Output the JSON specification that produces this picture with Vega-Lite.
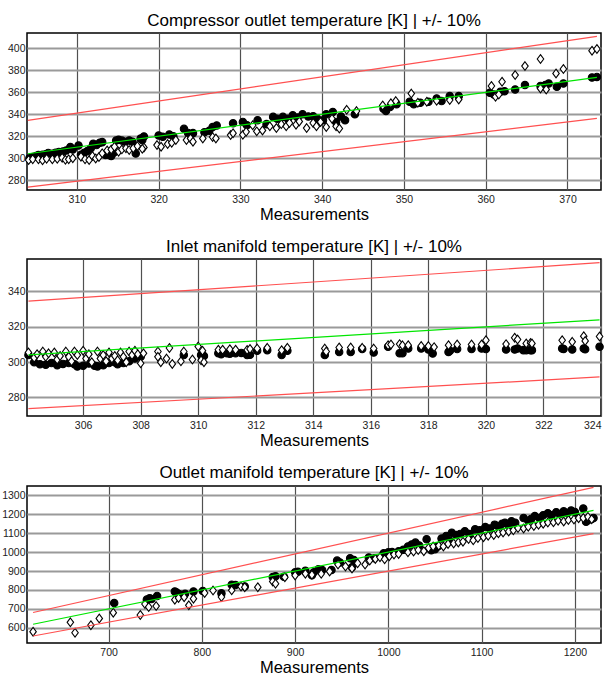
{
"$schema": "https://vega.github.io/schema/vega-lite/v6.json",
"background": "white",
"padding": {"left": 0, "top": 11, "right": 4, "bottom": 0},
"spacing": 13,
"datasets": {
"p1": [
{"x":304.2,"y":300,"m":"c"},{"x":304.6,"y":301,"m":"c"},{"x":305.0,"y":302,"m":"c"},{"x":305.3,"y":302.8,"m":"c"},{"x":305.8,"y":303,"m":"c"},{"x":306.2,"y":303.5,"m":"c"},{"x":306.5,"y":304.7,"m":"c"},{"x":307.0,"y":304,"m":"c"},{"x":307.4,"y":305,"m":"c"},{"x":307.8,"y":305.6,"m":"c"},{"x":308.3,"y":306,"m":"c"},{"x":308.7,"y":307,"m":"c"},{"x":309.2,"y":310.1,"m":"c"},{"x":309.5,"y":308,"m":"c"},{"x":310.2,"y":311.6,"m":"c"},{"x":310.5,"y":303,"m":"c"},{"x":310.9,"y":305,"m":"c"},{"x":311.3,"y":306.5,"m":"c"},{"x":311.7,"y":309,"m":"c"},{"x":312.0,"y":313.1,"m":"c"},{"x":312.4,"y":312,"m":"c"},{"x":312.8,"y":314,"m":"c"},{"x":313.1,"y":314.6,"m":"c"},{"x":313.5,"y":303,"m":"c"},{"x":313.9,"y":302.8,"m":"c"},{"x":314.2,"y":302,"m":"c"},{"x":314.5,"y":305,"m":"c"},{"x":314.8,"y":316,"m":"c"},{"x":315.1,"y":316.7,"m":"c"},{"x":315.5,"y":316,"m":"c"},{"x":315.9,"y":315,"m":"c"},{"x":316.4,"y":316.1,"m":"c"},{"x":316.8,"y":315,"m":"c"},{"x":317.2,"y":304.3,"m":"c"},{"x":317.8,"y":318,"m":"c"},{"x":318.2,"y":319.8,"m":"c"},{"x":318.0,"y":316.5,"m":"c"},{"x":320.0,"y":320.7,"m":"c"},{"x":320.5,"y":319.5,"m":"c"},{"x":321.3,"y":321.6,"m":"c"},{"x":321.8,"y":320,"m":"c"},{"x":323.1,"y":326.7,"m":"c"},{"x":323.6,"y":323,"m":"c"},{"x":324.2,"y":322.8,"m":"c"},{"x":325.6,"y":323.7,"m":"c"},{"x":326.2,"y":325,"m":"c"},{"x":326.6,"y":328.3,"m":"c"},{"x":327.1,"y":329.8,"m":"c"},{"x":329.1,"y":331.7,"m":"c"},{"x":330.3,"y":333,"m":"c"},{"x":330.8,"y":330,"m":"c"},{"x":332.1,"y":334.5,"m":"c"},{"x":333.2,"y":331,"m":"c"},{"x":334.0,"y":337.6,"m":"c"},{"x":334.5,"y":336,"m":"c"},{"x":335.2,"y":337.6,"m":"c"},{"x":335.8,"y":336,"m":"c"},{"x":336.4,"y":339,"m":"c"},{"x":337.0,"y":337,"m":"c"},{"x":337.6,"y":340,"m":"c"},{"x":338.3,"y":338,"m":"c"},{"x":338.9,"y":338.2,"m":"c"},{"x":339.4,"y":336,"m":"c"},{"x":340.1,"y":334.5,"m":"c"},{"x":340.5,"y":340,"m":"c"},{"x":341.3,"y":342,"m":"c"},{"x":341.7,"y":333,"m":"c"},{"x":342.3,"y":338,"m":"c"},{"x":342.8,"y":334.5,"m":"c"},{"x":344.0,"y":340,"m":"c"},{"x":347.5,"y":345,"m":"c"},{"x":347.8,"y":343,"m":"c"},{"x":348.3,"y":346.5,"m":"c"},{"x":349.1,"y":349,"m":"c"},{"x":350.7,"y":351.4,"m":"c"},{"x":351.2,"y":349,"m":"c"},{"x":352.0,"y":350.5,"m":"c"},{"x":353.0,"y":351.4,"m":"c"},{"x":354.0,"y":354.4,"m":"c"},{"x":354.6,"y":352,"m":"c"},{"x":355.6,"y":356.5,"m":"c"},{"x":356.7,"y":356.5,"m":"c"},{"x":360.5,"y":359.5,"m":"c"},{"x":361.0,"y":358,"m":"c"},{"x":361.8,"y":360.5,"m":"c"},{"x":362.3,"y":361,"m":"c"},{"x":363.6,"y":362.6,"m":"c"},{"x":364.8,"y":366.6,"m":"c"},{"x":366.7,"y":365.7,"m":"c"},{"x":367.3,"y":366.6,"m":"c"},{"x":367.7,"y":368,"m":"c"},{"x":368.7,"y":365,"m":"c"},{"x":369.5,"y":368,"m":"c"},{"x":373.0,"y":373.5,"m":"c"},{"x":373.6,"y":374,"m":"c"},
{"x":304.1,"y":298.3,"m":"d"},{"x":304.6,"y":299,"m":"d"},{"x":305.3,"y":298.9,"m":"d"},{"x":305.8,"y":298,"m":"d"},{"x":306.3,"y":299.5,"m":"d"},{"x":307.0,"y":298.9,"m":"d"},{"x":307.6,"y":299.5,"m":"d"},{"x":308.2,"y":300.4,"m":"d"},{"x":308.6,"y":298.5,"m":"d"},{"x":309.0,"y":298.9,"m":"d"},{"x":309.5,"y":300,"m":"d"},{"x":310.5,"y":301.3,"m":"d"},{"x":311.0,"y":299,"m":"d"},{"x":311.5,"y":298.3,"m":"d"},{"x":311.9,"y":302,"m":"d"},{"x":312.3,"y":299.8,"m":"d"},{"x":312.7,"y":301,"m":"d"},{"x":313.1,"y":304.4,"m":"d"},{"x":313.7,"y":307,"m":"d"},{"x":314.2,"y":308,"m":"d"},{"x":314.6,"y":310.4,"m":"d"},{"x":315.1,"y":305.9,"m":"d"},{"x":315.5,"y":308,"m":"d"},{"x":316.0,"y":309,"m":"d"},{"x":316.4,"y":307.4,"m":"d"},{"x":316.9,"y":309,"m":"d"},{"x":317.4,"y":311,"m":"d"},{"x":318.2,"y":309.8,"m":"d"},{"x":318.0,"y":308.5,"m":"d"},{"x":319.8,"y":311.9,"m":"d"},{"x":320.3,"y":310.5,"m":"d"},{"x":321.1,"y":312.8,"m":"d"},{"x":321.6,"y":314,"m":"d"},{"x":322.1,"y":316.5,"m":"d"},{"x":323.4,"y":316.5,"m":"d"},{"x":323.9,"y":318,"m":"d"},{"x":324.2,"y":315,"m":"d"},{"x":325.4,"y":318,"m":"d"},{"x":326.6,"y":319.2,"m":"d"},{"x":327.0,"y":318,"m":"d"},{"x":328.8,"y":321,"m":"d"},{"x":329.1,"y":322.8,"m":"d"},{"x":330.3,"y":321.3,"m":"d"},{"x":330.7,"y":324,"m":"d"},{"x":331.5,"y":330,"m":"d"},{"x":332.0,"y":324.4,"m":"d"},{"x":332.7,"y":325.3,"m":"d"},{"x":333.6,"y":329,"m":"d"},{"x":334.4,"y":327.4,"m":"d"},{"x":335.0,"y":331,"m":"d"},{"x":335.6,"y":329,"m":"d"},{"x":336.0,"y":332,"m":"d"},{"x":336.8,"y":330.5,"m":"d"},{"x":337.2,"y":333.5,"m":"d"},{"x":338.1,"y":327.4,"m":"d"},{"x":338.9,"y":332,"m":"d"},{"x":339.3,"y":329,"m":"d"},{"x":339.8,"y":333,"m":"d"},{"x":340.5,"y":328.3,"m":"d"},{"x":341.2,"y":336,"m":"d"},{"x":341.7,"y":329,"m":"d"},{"x":342.1,"y":327,"m":"d"},{"x":343.0,"y":344,"m":"d"},{"x":344.2,"y":342.9,"m":"d"},{"x":347.4,"y":348,"m":"d"},{"x":348.4,"y":350,"m":"d"},{"x":349.0,"y":352,"m":"d"},{"x":350.9,"y":358.8,"m":"d"},{"x":351.7,"y":350.5,"m":"d"},{"x":352.8,"y":351.4,"m":"d"},{"x":354.0,"y":352.3,"m":"d"},{"x":355.6,"y":352.9,"m":"d"},{"x":356.7,"y":353.5,"m":"d"},{"x":360.7,"y":365.7,"m":"d"},{"x":361.2,"y":355.9,"m":"d"},{"x":361.6,"y":358,"m":"d"},{"x":362.0,"y":369.6,"m":"d"},{"x":363.6,"y":375.7,"m":"d"},{"x":364.8,"y":383.9,"m":"d"},{"x":366.7,"y":390.3,"m":"d"},{"x":366.7,"y":363.5,"m":"d"},{"x":367.4,"y":362.6,"m":"d"},{"x":368.6,"y":377.2,"m":"d"},{"x":369.5,"y":381.2,"m":"d"},{"x":373.0,"y":397.9,"m":"d"},{"x":373.6,"y":399.4,"m":"d"}
],
"l1": [
{"x":304.0,"y":304.0,"k":"ideal"},{"x":373.6,"y":373.6,"k":"ideal"},
{"x":304.0,"y":334.4,"k":"upper"},{"x":373.6,"y":411.0,"k":"upper"},
{"x":304.0,"y":273.6,"k":"lower"},{"x":373.6,"y":336.2,"k":"lower"}
],
"p2": [
{"x":304.1,"y":304,"m":"c"},{"x":304.3,"y":300,"m":"c"},{"x":304.5,"y":298.8,"m":"c"},{"x":304.7,"y":298.5,"m":"c"},{"x":304.9,"y":299.5,"m":"c"},{"x":305.1,"y":298.2,"m":"c"},{"x":305.3,"y":299,"m":"c"},{"x":305.5,"y":299.5,"m":"c"},{"x":305.7,"y":298.8,"m":"c"},{"x":305.8,"y":297.5,"m":"c"},{"x":306.0,"y":298,"m":"c"},{"x":306.2,"y":299.2,"m":"c"},{"x":306.4,"y":298,"m":"c"},{"x":306.5,"y":297.6,"m":"c"},{"x":306.7,"y":298.2,"m":"c"},{"x":306.9,"y":299.5,"m":"c"},{"x":307.1,"y":300,"m":"c"},{"x":307.2,"y":298.8,"m":"c"},{"x":307.4,"y":299.5,"m":"c"},{"x":307.6,"y":300.5,"m":"c"},{"x":307.8,"y":302,"m":"c"},{"x":308.0,"y":303,"m":"c"},{"x":309.5,"y":304,"m":"c"},{"x":310.1,"y":304,"m":"c"},{"x":310.2,"y":303.5,"m":"c"},{"x":310.7,"y":305,"m":"c"},{"x":310.8,"y":304.5,"m":"c"},{"x":311.0,"y":305,"m":"c"},{"x":311.1,"y":304.8,"m":"c"},{"x":311.3,"y":305,"m":"c"},{"x":311.5,"y":305.2,"m":"c"},{"x":311.7,"y":304,"m":"c"},{"x":311.8,"y":304.2,"m":"c"},{"x":312.05,"y":306.4,"m":"c"},{"x":312.4,"y":306.8,"m":"c"},{"x":312.9,"y":304,"m":"c"},{"x":313.1,"y":306.4,"m":"c"},{"x":314.4,"y":304,"m":"c"},{"x":314.9,"y":305.7,"m":"c"},{"x":315.3,"y":305.7,"m":"c"},{"x":315.7,"y":307.4,"m":"c"},{"x":316.1,"y":305.5,"m":"c"},{"x":316.6,"y":308.7,"m":"c"},{"x":317.0,"y":305,"m":"c"},{"x":317.1,"y":305,"m":"c"},{"x":317.3,"y":307.7,"m":"c"},{"x":317.75,"y":307.7,"m":"c"},{"x":318.0,"y":307.2,"m":"c"},{"x":318.15,"y":304.9,"m":"c"},{"x":318.7,"y":305.8,"m":"c"},{"x":318.75,"y":306.5,"m":"c"},{"x":319.0,"y":307.4,"m":"c"},{"x":319.5,"y":307.4,"m":"c"},{"x":319.85,"y":307.7,"m":"c"},{"x":320.0,"y":307.4,"m":"c"},{"x":320.7,"y":307.2,"m":"c"},{"x":321.0,"y":307.2,"m":"c"},{"x":321.1,"y":307.7,"m":"c"},{"x":321.3,"y":306.8,"m":"c"},{"x":321.4,"y":306.8,"m":"c"},{"x":321.55,"y":306.8,"m":"c"},{"x":321.6,"y":306.8,"m":"c"},{"x":322.65,"y":307.7,"m":"c"},{"x":322.7,"y":307.5,"m":"c"},{"x":323.0,"y":307.2,"m":"c"},{"x":323.4,"y":307.7,"m":"c"},{"x":323.45,"y":307.3,"m":"c"},{"x":323.95,"y":308.7,"m":"c"},
{"x":304.1,"y":305.5,"m":"d"},{"x":304.3,"y":302.5,"m":"d"},{"x":304.4,"y":304.5,"m":"d"},{"x":304.6,"y":306,"m":"d"},{"x":304.7,"y":303,"m":"d"},{"x":304.8,"y":305,"m":"d"},{"x":305.0,"y":305.5,"m":"d"},{"x":305.1,"y":301.5,"m":"d"},{"x":305.2,"y":303.5,"m":"d"},{"x":305.4,"y":306,"m":"d"},{"x":305.5,"y":303,"m":"d"},{"x":305.6,"y":300.5,"m":"d"},{"x":305.7,"y":306,"m":"d"},{"x":305.8,"y":304,"m":"d"},{"x":306.0,"y":306.5,"m":"d"},{"x":306.1,"y":302,"m":"d"},{"x":306.2,"y":304.5,"m":"d"},{"x":306.3,"y":300,"m":"d"},{"x":306.5,"y":306,"m":"d"},{"x":306.6,"y":302,"m":"d"},{"x":306.7,"y":304,"m":"d"},{"x":306.8,"y":300.5,"m":"d"},{"x":306.9,"y":305.5,"m":"d"},{"x":307.0,"y":302,"m":"d"},{"x":307.1,"y":303.5,"m":"d"},{"x":307.2,"y":301,"m":"d"},{"x":307.3,"y":305.5,"m":"d"},{"x":307.4,"y":303,"m":"d"},{"x":307.5,"y":300,"m":"d"},{"x":307.6,"y":306,"m":"d"},{"x":307.7,"y":304,"m":"d"},{"x":307.8,"y":306.5,"m":"d"},{"x":307.9,"y":304.5,"m":"d"},{"x":308.0,"y":299.3,"m":"d"},{"x":308.1,"y":305,"m":"d"},{"x":308.6,"y":306,"m":"d"},{"x":308.6,"y":303,"m":"d"},{"x":308.7,"y":300,"m":"d"},{"x":308.9,"y":302,"m":"d"},{"x":309.0,"y":308,"m":"d"},{"x":309.1,"y":299,"m":"d"},{"x":309.4,"y":300.5,"m":"d"},{"x":309.5,"y":306,"m":"d"},{"x":309.8,"y":301.5,"m":"d"},{"x":310.0,"y":308.8,"m":"d"},{"x":310.1,"y":301,"m":"d"},{"x":310.15,"y":306.5,"m":"d"},{"x":310.2,"y":300,"m":"d"},{"x":310.7,"y":307,"m":"d"},{"x":310.85,"y":307,"m":"d"},{"x":311.1,"y":307.3,"m":"d"},{"x":311.3,"y":307,"m":"d"},{"x":311.7,"y":306.9,"m":"d"},{"x":311.8,"y":307.5,"m":"d"},{"x":312.05,"y":307.7,"m":"d"},{"x":312.4,"y":308.1,"m":"d"},{"x":312.9,"y":306.8,"m":"d"},{"x":313.1,"y":308.1,"m":"d"},{"x":314.4,"y":307.7,"m":"d"},{"x":314.45,"y":306,"m":"d"},{"x":314.9,"y":308.3,"m":"d"},{"x":315.3,"y":308.3,"m":"d"},{"x":315.7,"y":308.1,"m":"d"},{"x":316.1,"y":307.7,"m":"d"},{"x":316.6,"y":309.6,"m":"d"},{"x":316.7,"y":310,"m":"d"},{"x":317.0,"y":310.2,"m":"d"},{"x":317.1,"y":309.5,"m":"d"},{"x":317.3,"y":309.6,"m":"d"},{"x":317.75,"y":309.2,"m":"d"},{"x":318.0,"y":309.1,"m":"d"},{"x":318.2,"y":308.5,"m":"d"},{"x":318.7,"y":309.6,"m":"d"},{"x":319.0,"y":310,"m":"d"},{"x":319.5,"y":310,"m":"d"},{"x":319.85,"y":310,"m":"d"},{"x":320.0,"y":312.4,"m":"d"},{"x":320.7,"y":310.2,"m":"d"},{"x":321.0,"y":313.8,"m":"d"},{"x":321.1,"y":312.8,"m":"d"},{"x":321.4,"y":310.6,"m":"d"},{"x":321.55,"y":310.9,"m":"d"},{"x":321.6,"y":310.6,"m":"d"},{"x":322.65,"y":312.4,"m":"d"},{"x":323.0,"y":311.5,"m":"d"},{"x":323.4,"y":314.7,"m":"d"},{"x":323.45,"y":312,"m":"d"},{"x":323.95,"y":314.5,"m":"d"}
],
"l2": [
{"x":304.1,"y":304.1,"k":"ideal"},{"x":323.95,"y":323.95,"k":"ideal"},
{"x":304.1,"y":334.5,"k":"upper"},{"x":323.95,"y":356.3,"k":"upper"},
{"x":304.1,"y":273.7,"k":"lower"},{"x":323.95,"y":291.6,"k":"lower"}
],
"p3": [
{"x":706,"y":731,"m":"c"},{"x":741,"y":749,"m":"c"},{"x":744,"y":756,"m":"c"},{"x":746,"y":752,"m":"c"},{"x":752,"y":768,"m":"c"},{"x":771,"y":792,"m":"c"},{"x":773,"y":786,"m":"c"},{"x":776,"y":778,"m":"c"},{"x":782,"y":780,"m":"c"},{"x":791,"y":792,"m":"c"},{"x":801,"y":795,"m":"c"},{"x":821,"y":782,"m":"c"},{"x":832,"y":828,"m":"c"},{"x":836,"y":826,"m":"c"},{"x":846,"y":818,"m":"c"},{"x":876,"y":868,"m":"c"},{"x":879,"y":873,"m":"c"},{"x":888,"y":870,"m":"c"},{"x":900,"y":893,"m":"c"},{"x":903,"y":896,"m":"c"},{"x":911,"y":902,"m":"c"},{"x":918,"y":878,"m":"c"},{"x":920,"y":893,"m":"c"},{"x":925,"y":910,"m":"c"},{"x":929,"y":905,"m":"c"},{"x":939,"y":905,"m":"c"},{"x":945,"y":955,"m":"c"},{"x":948,"y":945,"m":"c"},{"x":959,"y":968,"m":"c"},{"x":961,"y":920,"m":"c"},{"x":963,"y":958,"m":"c"},{"x":979,"y":972,"m":"c"},{"x":985,"y":968,"m":"c"},{"x":995,"y":994,"m":"c"},{"x":1000,"y":999,"m":"c"},{"x":1004,"y":1000,"m":"c"},{"x":1011,"y":1005,"m":"c"},{"x":1016,"y":1012,"m":"c"},{"x":1021,"y":1030,"m":"c"},{"x":1025,"y":1040,"m":"c"},{"x":1029,"y":1050,"m":"c"},{"x":1033,"y":1035,"m":"c"},{"x":1041,"y":1068,"m":"c"},{"x":1046,"y":1010,"m":"c"},{"x":1050,"y":1015,"m":"c"},{"x":1053,"y":1030,"m":"c"},{"x":1057,"y":1072,"m":"c"},{"x":1062,"y":1085,"m":"c"},{"x":1066,"y":1060,"m":"c"},{"x":1068,"y":1102,"m":"c"},{"x":1073,"y":1090,"m":"c"},{"x":1077,"y":1096,"m":"c"},{"x":1082,"y":1110,"m":"c"},{"x":1087,"y":1095,"m":"c"},{"x":1093,"y":1120,"m":"c"},{"x":1098,"y":1115,"m":"c"},{"x":1104,"y":1132,"m":"c"},{"x":1109,"y":1125,"m":"c"},{"x":1114,"y":1145,"m":"c"},{"x":1118,"y":1135,"m":"c"},{"x":1122,"y":1150,"m":"c"},{"x":1125,"y":1155,"m":"c"},{"x":1129,"y":1140,"m":"c"},{"x":1132,"y":1163,"m":"c"},{"x":1136,"y":1155,"m":"c"},{"x":1145,"y":1180,"m":"c"},{"x":1150,"y":1165,"m":"c"},{"x":1153,"y":1175,"m":"c"},{"x":1157,"y":1190,"m":"c"},{"x":1162,"y":1180,"m":"c"},{"x":1166,"y":1195,"m":"c"},{"x":1171,"y":1205,"m":"c"},{"x":1175,"y":1195,"m":"c"},{"x":1180,"y":1210,"m":"c"},{"x":1184,"y":1200,"m":"c"},{"x":1188,"y":1215,"m":"c"},{"x":1192,"y":1205,"m":"c"},{"x":1196,"y":1220,"m":"c"},{"x":1200,"y":1212,"m":"c"},{"x":1209,"y":1230,"m":"c"},{"x":1212,"y":1160,"m":"c"},{"x":1214,"y":1168,"m":"c"},{"x":1218,"y":1175,"m":"c"},{"x":1220,"y":1180,"m":"c"},
{"x":619,"y":580,"m":"d"},{"x":659,"y":629,"m":"d"},{"x":664,"y":574,"m":"d"},{"x":681,"y":614,"m":"d"},{"x":690,"y":650,"m":"d"},{"x":705,"y":680,"m":"d"},{"x":734,"y":668,"m":"d"},{"x":739,"y":726,"m":"d"},{"x":743,"y":710,"m":"d"},{"x":751,"y":715,"m":"d"},{"x":771,"y":749,"m":"d"},{"x":775,"y":758,"m":"d"},{"x":781,"y":762,"m":"d"},{"x":786,"y":719,"m":"d"},{"x":791,"y":754,"m":"d"},{"x":803,"y":784,"m":"d"},{"x":812,"y":797,"m":"d"},{"x":821,"y":763,"m":"d"},{"x":832,"y":798,"m":"d"},{"x":842,"y":818,"m":"d"},{"x":846,"y":815,"m":"d"},{"x":860,"y":815,"m":"d"},{"x":876,"y":845,"m":"d"},{"x":879,"y":833,"m":"d"},{"x":889,"y":867,"m":"d"},{"x":900,"y":877,"m":"d"},{"x":911,"y":886,"m":"d"},{"x":918,"y":880,"m":"d"},{"x":928,"y":885,"m":"d"},{"x":937,"y":898,"m":"d"},{"x":946,"y":934,"m":"d"},{"x":954,"y":924,"m":"d"},{"x":961,"y":914,"m":"d"},{"x":967,"y":941,"m":"d"},{"x":975,"y":934,"m":"d"},{"x":980,"y":955,"m":"d"},{"x":986,"y":964,"m":"d"},{"x":991,"y":973,"m":"d"},{"x":996,"y":962,"m":"d"},{"x":1001,"y":978,"m":"d"},{"x":1006,"y":987,"m":"d"},{"x":1011,"y":990,"m":"d"},{"x":1021,"y":999,"m":"d"},{"x":1027,"y":1003,"m":"d"},{"x":1032,"y":1011,"m":"d"},{"x":1038,"y":1005,"m":"d"},{"x":1043,"y":1022,"m":"d"},{"x":1048,"y":1030,"m":"d"},{"x":1054,"y":1034,"m":"d"},{"x":1059,"y":1030,"m":"d"},{"x":1064,"y":1043,"m":"d"},{"x":1070,"y":1046,"m":"d"},{"x":1075,"y":1051,"m":"d"},{"x":1080,"y":1055,"m":"d"},{"x":1086,"y":1069,"m":"d"},{"x":1091,"y":1062,"m":"d"},{"x":1096,"y":1074,"m":"d"},{"x":1102,"y":1079,"m":"d"},{"x":1107,"y":1086,"m":"d"},{"x":1113,"y":1090,"m":"d"},{"x":1118,"y":1099,"m":"d"},{"x":1123,"y":1103,"m":"d"},{"x":1129,"y":1109,"m":"d"},{"x":1134,"y":1115,"m":"d"},{"x":1139,"y":1127,"m":"d"},{"x":1145,"y":1125,"m":"d"},{"x":1150,"y":1134,"m":"d"},{"x":1156,"y":1138,"m":"d"},{"x":1161,"y":1144,"m":"d"},{"x":1166,"y":1150,"m":"d"},{"x":1171,"y":1156,"m":"d"},{"x":1177,"y":1157,"m":"d"},{"x":1182,"y":1165,"m":"d"},{"x":1188,"y":1162,"m":"d"},{"x":1193,"y":1169,"m":"d"},{"x":1199,"y":1172,"m":"d"},{"x":1204,"y":1179,"m":"d"},{"x":1209,"y":1180,"m":"d"},{"x":1214,"y":1186,"m":"d"},{"x":1218,"y":1174,"m":"d"}
],
"l3": [
{"x":619,"y":619,"k":"ideal"},{"x":1220,"y":1220,"k":"ideal"},
{"x":619,"y":680.9,"k":"upper"},{"x":1220,"y":1342,"k":"upper"},
{"x":619,"y":557.1,"k":"lower"},{"x":1220,"y":1098,"k":"lower"}
]
},
"vconcat": [
{
"title": "Compressor outlet temperature [K] | +/- 10%",
"width": 574, "height": 157,
"encoding": {
"x": {"field": "x", "type": "quantitative", "scale": {"domain": [303.9, 374.1], "nice": false, "zero": false}, "axis": {"values": [310,320,330,340,350,360,370], "format": "d", "title": "Measurements"}},
"y": {"field": "y", "type": "quantitative", "scale": {"domain": [271, 414], "nice": false, "zero": false}, "axis": {"values": [280,300,320,340,360,380,400], "format": "d", "title": null}}
},
"layer": [
{"data": {"name": "p1"}, "mark": {"type": "point", "filled": true, "stroke": "#000", "strokeWidth": 1.1, "opacity": 1},
 "encoding": {
  "shape": {"field": "m", "type": "nominal", "scale": {"domain": ["c","d"], "range": ["circle", "M0,-1L0.75,0L0,1L-0.75,0Z"]}, "legend": null},
  "fill": {"field": "m", "type": "nominal", "scale": {"domain": ["c","d"], "range": ["#000000","#ffffff"]}, "legend": null},
  "size": {"field": "m", "type": "ordinal", "scale": {"domain": ["c","d"], "range": [55,75]}, "legend": null}
 }},
{"data": {"name": "l1"}, "mark": {"type": "line", "strokeWidth": 1.2},
 "encoding": {"color": {"field": "k", "type": "nominal", "scale": {"domain": ["ideal","upper","lower"], "range": ["#00e600","#ff5050","#ff5050"]}, "legend": null}}}
]
},
{
"title": "Inlet manifold temperature [K] | +/- 10%",
"width": 574, "height": 157,
"encoding": {
"x": {"field": "x", "type": "quantitative", "scale": {"domain": [304.05, 324.0], "nice": false, "zero": false}, "axis": {"values": [306,308,310,312,314,316,318,320,322,324], "format": "d", "title": "Measurements", "labelFlush": true}},
"y": {"field": "y", "type": "quantitative", "scale": {"domain": [269.5, 358.4], "nice": false, "zero": false}, "axis": {"values": [280,300,320,340], "format": "d", "title": null}}
},
"layer": [
{"data": {"name": "p2"}, "mark": {"type": "point", "filled": true, "stroke": "#000", "strokeWidth": 1.1, "opacity": 1},
 "encoding": {
  "shape": {"field": "m", "type": "nominal", "scale": {"domain": ["c","d"], "range": ["circle", "M0,-1L0.75,0L0,1L-0.75,0Z"]}, "legend": null},
  "fill": {"field": "m", "type": "nominal", "scale": {"domain": ["c","d"], "range": ["#000000","#ffffff"]}, "legend": null},
  "size": {"field": "m", "type": "ordinal", "scale": {"domain": ["c","d"], "range": [55,75]}, "legend": null}
 }},
{"data": {"name": "l2"}, "mark": {"type": "line", "strokeWidth": 1.2},
 "encoding": {"color": {"field": "k", "type": "nominal", "scale": {"domain": ["ideal","upper","lower"], "range": ["#00e600","#ff5050","#ff5050"]}, "legend": null}}}
]
},
{
"title": "Outlet manifold temperature [K] | +/- 10%",
"width": 574, "height": 157,
"encoding": {
"x": {"field": "x", "type": "quantitative", "scale": {"domain": [612.5, 1228], "nice": false, "zero": false}, "axis": {"values": [700,800,900,1000,1100,1200], "format": "d", "title": "Measurements"}},
"y": {"field": "y", "type": "quantitative", "scale": {"domain": [520, 1349], "nice": false, "zero": false}, "axis": {"values": [600,700,800,900,1000,1100,1200,1300], "format": "d", "title": null}}
},
"layer": [
{"data": {"name": "p3"}, "mark": {"type": "point", "filled": true, "stroke": "#000", "strokeWidth": 1.1, "opacity": 1},
 "encoding": {
  "shape": {"field": "m", "type": "nominal", "scale": {"domain": ["c","d"], "range": ["circle", "M0,-1L0.75,0L0,1L-0.75,0Z"]}, "legend": null},
  "fill": {"field": "m", "type": "nominal", "scale": {"domain": ["c","d"], "range": ["#000000","#ffffff"]}, "legend": null},
  "size": {"field": "m", "type": "ordinal", "scale": {"domain": ["c","d"], "range": [55,75]}, "legend": null}
 }},
{"data": {"name": "l3"}, "mark": {"type": "line", "strokeWidth": 1.2},
 "encoding": {"color": {"field": "k", "type": "nominal", "scale": {"domain": ["ideal","upper","lower"], "range": ["#00e600","#ff5050","#ff5050"]}, "legend": null}}}
]
}
],
"config": {
"font": "Liberation Sans",
"view": {"stroke": "#000000", "strokeWidth": 1.5},
"title": {"font": "Liberation Sans", "fontSize": 17, "fontWeight": "normal", "color": "#000000", "offset": 3},
"axis": {"labelFont": "Liberation Sans", "labelFontSize": 10.5, "labelColor": "#222222", "ticks": false, "domain": false, "labelPadding": 2, "titleFont": "Liberation Sans", "titleFontSize": 16.5, "titleFontWeight": "normal", "titleColor": "#000000", "titlePadding": 2},
"axisX": {"gridColor": "#505050", "gridWidth": 1.2, "gridOpacity": 1, "labelPadding": 4},
"axisY": {"gridColor": "#9a9a9a", "gridWidth": 2, "gridOpacity": 1}
}
}
